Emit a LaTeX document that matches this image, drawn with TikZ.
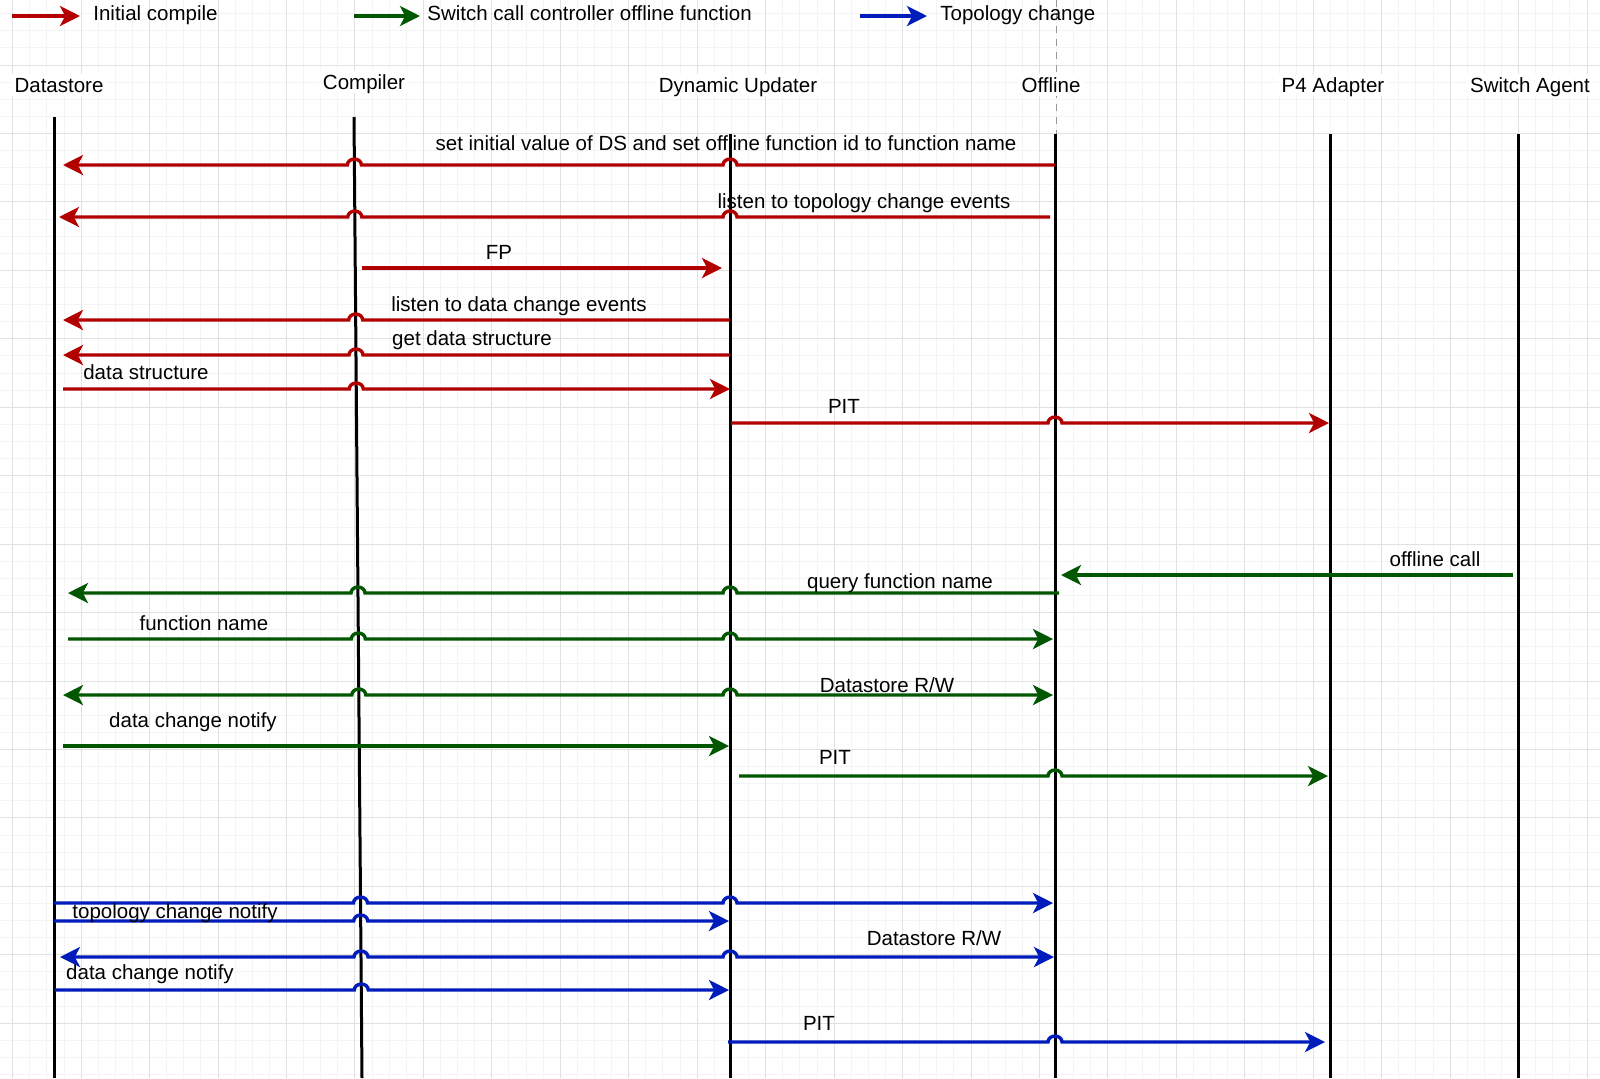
\documentclass[tikz,border=0pt]{standalone}
\usepackage{fontspec}
\setmainfont{Liberation Sans}
\usetikzlibrary{arrows.meta}
\definecolor{initred}{HTML}{B20000}
\definecolor{callgreen}{HTML}{005700}
\definecolor{topoblue}{HTML}{001DBC}
\definecolor{gridmajor}{HTML}{E1E1E1}
\definecolor{gridminor}{HTML}{F4F4F4}

\begin{document}
\begin{tikzpicture}[x=0.5pt, y=-0.5pt,
  font=\fontsize{10.25}{12}\selectfont,
  >={Stealth[length=10pt, width=10pt, inset=2.6pt]},
  lifeline/.style={line width=1.5pt, black},
  msg/.style={line width=1.7pt},
  redmsg/.style={msg, initred},
  greenmsg/.style={msg, callgreen},
  bluemsg/.style={msg, topoblue},
  lbl/.style={inner sep=0pt, text height=0.72em, text depth=0pt},
  head/.style={lbl, fill=white, inner sep=2pt}]
\def\xds{54}
\def\xdu{730}
\def\xof{1055}
\def\xpa{1330}
\def\xsa{1518}
% jump over a lifeline, going right / going left
\def\hopR#1#2{-- ({#1-7},#2) arc[start angle=180, end angle=0, x radius=3.5pt, y radius=3pt]}
\def\hopL#1#2{-- ({#1+7},#2) arc[start angle=0, end angle=180, x radius=3.5pt, y radius=3pt]}

\useasboundingbox (0,0) rectangle (1600,1078);
\fill[white] (0,0) rectangle (1600,1078);

% ---- grid ----
\foreach \k in {0,...,94}
  \draw[gridminor, line width=0.5pt] ({-4.41+17.1125*\k},0) -- ++(0,1078);
\foreach \k in {0,...,63}
  \draw[gridminor, line width=0.5pt] (0,{-3.45+17.1125*\k}) -- ++(1600,0);
\foreach \k in {0,...,23}
  \draw[gridmajor, line width=0.5pt] ({12.7+68.45*\k},0) -- ++(0,1078);
\foreach \k in {1,...,15}
  \draw[gridmajor, line width=0.5pt] (0,{-3.45+68.45*\k}) -- ++(1600,0);
\draw[black!40, line width=0.5pt, dash pattern=on 3.5pt off 3pt] (1056,0) -- (1056,134);

% ---- legend ----
\draw[redmsg, ->] (12,16) -- (80,16);
\node[lbl, anchor=west] (lgred) at (93,13) {Initial compile};
\draw[greenmsg, ->] (354,16) -- (420,16);
\node[lbl, anchor=west] (lggreen) at (427,13) {Switch call controller offline function};
\draw[bluemsg, ->] (860,16) -- (927,16);
\node[lbl, anchor=west] (lgblue) at (940,13) {Topology change};

% ---- participants ----
\node[head] (ds) at (59,85) {Datastore};
\node[head] (cp) at (364,82) {Compiler};
\node[head] (du) at (738,85) {Dynamic Updater};
\node[head] (of) at (1051,85) {Offline};
\node[head] (pa) at (1333,85) {P4 Adapter};
\node[head] (sa) at (1530,85) {Switch Agent};

\draw[lifeline] (\xds,117) -- (\xds,1078);
\draw[lifeline] (354,117) -- (362,1078);
\draw[lifeline] (\xdu,134) -- (\xdu,1078);
\draw[lifeline] (\xof,134) -- (\xof,1078);
\draw[lifeline] (\xpa,134) -- (\xpa,1078);
\draw[lifeline] (\xsa,134) -- (\xsa,1078);

% ---- initial compile ----
\draw[redmsg, ->] (\xof,165) \hopL{\xdu}{165} \hopL{354.4}{165} -- (63,165);
\node[lbl] (m1) at (726,143) {set initial value of DS and set offline function id to function name};
\draw[redmsg, ->] (1050,217) \hopL{\xdu}{217} \hopL{354.8}{217} -- (59,217);
\node[lbl] (m2) at (864,201) {listen to topology change events};
\draw[redmsg, ->] (362,268) -- (722,268);
\node[lbl] (m3) at (499,252) {FP};
\draw[redmsg, ->] (\xdu,320) \hopL{355.7}{320} -- (63,320);
\node[lbl] (m4) at (519,304) {listen to data change events};
\draw[redmsg, ->] (\xdu,355) \hopL{356}{355} -- (63,355);
\node[lbl] (m5) at (472,338) {get data structure};
\draw[redmsg, ->] (63,389) \hopR{356.3}{389} -- (\xdu,389);
\node[lbl] (m6) at (146,372) {data structure};
\draw[redmsg, ->] (731,423) \hopR{\xof}{423} -- (1329,423);
\node[lbl] (m7) at (844,406) {PIT};

% ---- switch call controller offline function ----
\draw[greenmsg, ->] (1513,575) -- (1061,575);
\node[lbl] (g1) at (1435,559) {offline call};
\draw[greenmsg, ->] (1059,593) \hopL{\xdu}{593} \hopL{358}{593} -- (68,593);
\node[lbl] (g2) at (900,581) {query function name};
\draw[greenmsg, ->] (68,639) \hopR{358.3}{639} \hopR{\xdu}{639} -- (1053,639);
\node[lbl] (g3) at (204,623) {function name};
\draw[greenmsg, <->] (63,695) \hopR{358.8}{695} \hopR{\xdu}{695} -- (1053,695);
\node[lbl] (g4) at (887,685) {Datastore R/W};
\draw[greenmsg, ->] (63,746) -- (729,746);
\node[lbl] (g5) at (193,720) {data change notify};
\draw[greenmsg, ->] (739,776) \hopR{\xof}{776} -- (1328,776);
\node[lbl] (g6) at (835,757) {PIT};

% ---- topology change ----
\draw[bluemsg, ->] (\xds,903) \hopR{360.5}{903} \hopR{\xdu}{903} -- (1053,903);
\draw[bluemsg, ->] (\xds,921) \hopR{360.7}{921} -- (729,921);
\node[lbl] (b1) at (175,911) {topology change notify};
\draw[bluemsg, <->] (60,957) \hopR{361}{957} \hopR{\xdu}{957} -- (1054,957);
\node[lbl] (b2) at (934,938) {Datastore R/W};
\draw[bluemsg, ->] (55,990) \hopR{361.3}{990} -- (729,990);
\node[lbl] (b3) at (150,972) {data change notify};
\draw[bluemsg, ->] (728,1042) \hopR{\xof}{1042} -- (1325,1042);
\node[lbl] (b4) at (819,1023) {PIT};
\end{tikzpicture}
\end{document}
